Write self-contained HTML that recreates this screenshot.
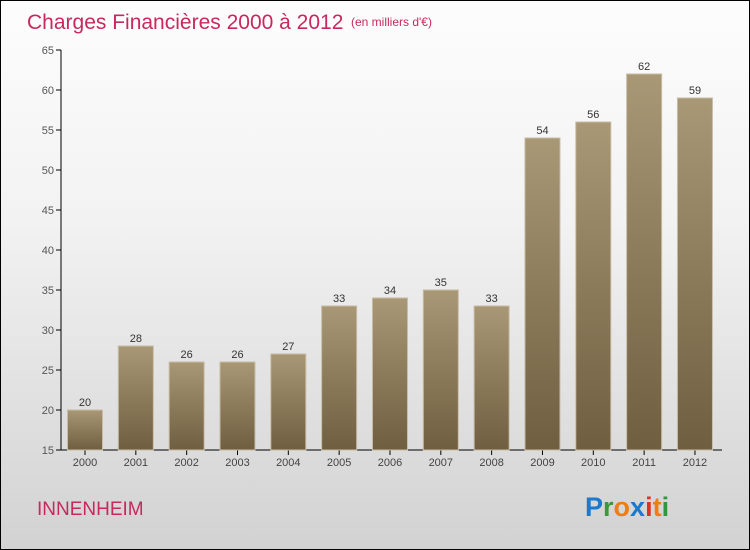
<!DOCTYPE html>
<html><head><meta charset="utf-8"><style>
body{margin:0;}
#wrap{width:748px;height:548px;border:1px solid #000;background:linear-gradient(#fdfdfd,#f2f2f2 40%,#d2d2d2);position:relative;overflow:hidden;font-family:"Liberation Sans",sans-serif;}
</style></head><body>
<div id="wrap">
<svg id="chart" width="748" height="548">
<defs><linearGradient id="bg" x1="0" y1="0" x2="0" y2="1"><stop offset="0" stop-color="#a99876"/><stop offset="1" stop-color="#6f5e40"/></linearGradient></defs>
<text x="26" y="28" font-size="21" fill="#c8285e">Charges Financières 2000 à 2012</text>
<text x="350" y="25" font-size="12" fill="#c8285e">(en milliers d'€)</text>
<text x="36" y="514" font-size="19" fill="#c8285e">INNENHEIM</text>
<g font-size="27" font-weight="bold" font-family="Liberation Sans, sans-serif">
<text x="584" y="515"><tspan fill="#1a7ad0">P</tspan><tspan fill="#3a9a3a">r</tspan><tspan fill="#f07d10">o</tspan><tspan fill="#1a7ad0">x</tspan><tspan fill="#e03020">i</tspan><tspan fill="#f07d10">t</tspan><tspan fill="#2a9a3a">i</tspan></text></g>
<g id="axes"></g><g id="bars"></g>
</svg>
</div>
<script>
const years=["2000","2001","2002","2003","2004","2005","2006","2007","2008","2009","2010","2011","2012"];
const values=[20,28,26,26,27,33,34,35,33,54,56,62,59];
const yTicks=[15,20,25,30,35,40,45,50,55,60,65];
const NS="http://www.w3.org/2000/svg";
const y0=449,yTop=49,vmin=15,vmax=65;
function yS(v){return y0-(v-vmin)/(vmax-vmin)*(y0-yTop);}
function xS(i){return 84+i*50.83;}
const axes=document.getElementById('axes'),bars=document.getElementById('bars');
function mk(t,a,p){const e=document.createElementNS(NS,t);for(const k in a)e.setAttribute(k,a[k]);p.appendChild(e);return e;}
yTicks.forEach(v=>{
 mk('line',{x1:55,x2:60,y1:yS(v),y2:yS(v),stroke:'#000'},axes);
 const t=mk('text',{x:53,y:yS(v)+4,'text-anchor':'end','font-size':11,fill:'#555'},axes);
 t.textContent=v;
 
 
});
const ya=mk('line',{x1:60,x2:60,y1:yTop,y2:y0,stroke:'#000'},axes);


years.forEach((yr,i)=>{
 const v=values[i],x=xS(i),w=35;
 const r=mk('rect',{x:x-w/2,y:yS(v),width:w,height:y0-yS(v),fill:'url(#bg)',stroke:'#c8bca4','stroke-width':1},bars);
 
 
 const l=mk('text',{x:x,y:yS(v)-4,'text-anchor':'middle','font-size':11,fill:'#333'},bars);
 l.textContent=v;
 
 
 mk('line',{x1:x,x2:x,y1:y0,y2:y0+5,stroke:'#000'},axes);
 const t=mk('text',{x:x,y:y0+16,'text-anchor':'middle','font-size':11,fill:'#444'},axes);
 t.textContent=yr;
 
 
});
const xa=mk('line',{x1:60,x2:721,y1:y0,y2:y0,stroke:'#000'},axes);


</script>
</body></html>
